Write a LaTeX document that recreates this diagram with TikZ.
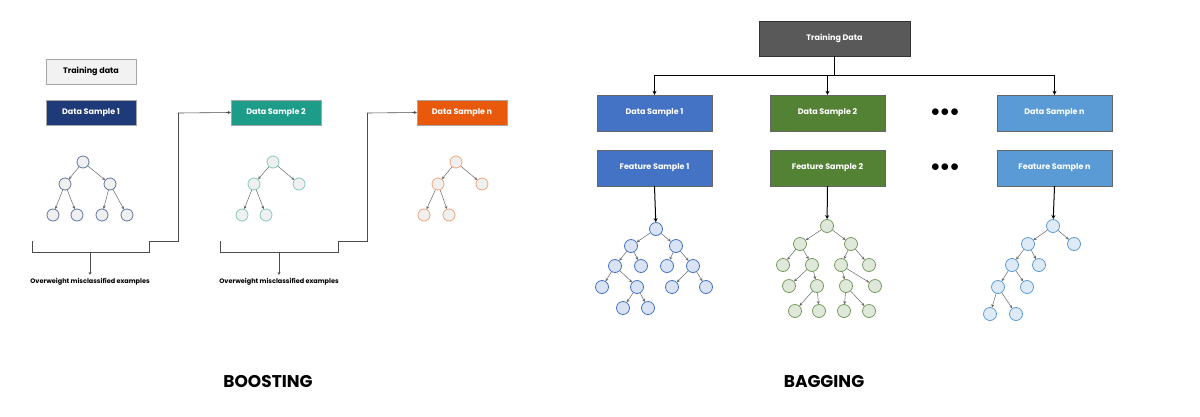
\documentclass[tikz,border=0pt]{standalone}
\usepackage{fontspec}
\setmainfont{Poppins}
\usetikzlibrary{arrows.meta}
\definecolor{dsone}{HTML}{1F3A78}
\definecolor{dstwo}{HTML}{1E9C8A}
\definecolor{dsn}{HTML}{E8590C}
\definecolor{bblue}{HTML}{4472C4}
\definecolor{bgreen}{HTML}{548235}
\definecolor{blight}{HTML}{5B9BD5}
\tikzset{
 px/.style={x=1pt,y=-1pt},
 bbox/.style={draw=gray!70,minimum width=90pt,minimum height=25pt,inner sep=0pt,font=\fontsize{8}{9}\selectfont\bfseries,text=white},
 gbox/.style={draw=black!60,minimum width=115pt,minimum height=36pt,inner sep=0pt,font=\fontsize{8}{9}\selectfont\bfseries,text=white},
 tn/.style={circle,draw=#1,fill=gray!12,line width=0.8pt,minimum size=12pt,inner sep=0pt},
 bn/.style={circle,draw=#1,line width=0.8pt,minimum size=13pt,inner sep=0pt},
 te/.style={draw=gray!80!black,line width=0.5pt,-{Stealth[length=3pt,width=3pt]}},
 ln/.style={draw=black!70,line width=0.6pt},
 ar/.style={draw=black,line width=1pt,-{Stealth[length=4pt,width=4pt]}},
 title/.style={font=\fontsize{17}{20}\selectfont\bfseries},
 captxt/.style={font=\fontsize{6.5}{8}\selectfont\bfseries}
}
\begin{document}
\begin{tikzpicture}[px]
\useasboundingbox (0,0) rectangle (1200,416);
% ---------- Boosting
\node[bbox,fill=gray!10,text=black] (td) at (91,71.5) {Training data};
\node[bbox,fill=dsone] (b1) at (91,112.5) {Data Sample 1};
\node[bbox,fill=dstwo] (b2) at (276,112.5) {Data Sample 2};
\node[bbox,fill=dsn] (bn) at (462,112.5) {Data Sample n};
% trees
\foreach \n/\x/\y in {r/83/162,a/65/184,b/110/184,c/53/215,d/77/215,e/102/215,f/127/215}
  \node[tn=dsone!70] (t1\n) at (\x,\y) {};
\foreach \p/\c in {r/a,r/b,a/c,a/d,b/e,b/f} \draw[te] (t1\p) -- (t1\c);
\foreach \n/\x/\y in {r/273/162,a/254/184,b/299/184,c/242/215,d/266/215}
  \node[tn=dstwo!55] (t2\n) at (\x,\y) {};
\foreach \p/\c in {r/a,r/b,a/c,a/d} \draw[te] (t2\p) -- (t2\c);
\foreach \n/\x/\y in {r/456/162,a/438/184,b/482/184,c/424/215,d/449/215}
  \node[tn=dsn!55] (t3\n) at (\x,\y) {};
\foreach \p/\c in {r/a,r/b,a/c,a/d} \draw[te] (t3\p) -- (t3\c);
% brackets
\coordinate (k1) at (32,241);
\draw[ln] (k1) -- (32,252) -- (149,252) -- (149,241) -- (178,241) -- (178,113);
\draw[ln,-{Stealth[length=3pt,width=3pt]}] (178,113) -- (b2.west);
\coordinate (k2) at (220,241);
\draw[ln] (k2) -- (220,252) -- (338,252) -- (338,241) -- (367,241) -- (367,113);
\draw[ln,-{Stealth[length=3pt,width=3pt]}] (367,113) -- (bn.west);
\node[captxt] (o1) at (90,282) {Overweight misclassified examples};
\node[captxt] (o2) at (279,282) {Overweight misclassified examples};
\draw[ln,-{Stealth[length=3pt,width=3pt]}] (90,252) -- (o1.north);
\draw[ln,-{Stealth[length=3pt,width=3pt]}] (279,252) -- (o2.north);
\node[title] (bt) at (268,381) {BOOSTING};
% ---------- Bagging
\node[gbox,draw=black!80,fill=black!65,minimum width=151pt,minimum height=35pt] (TD) at (834.5,38.5) {Training Data};
\node[gbox,fill=bblue] (d1) at (654.5,113) {Data Sample 1};
\node[gbox,fill=bgreen] (d2) at (827.5,113) {Data Sample 2};
\node[gbox,fill=blight] (dn) at (1054.5,113) {Data Sample n};
\node[gbox,fill=bblue] (f1) at (654.5,168) {Feature Sample 1};
\node[gbox,fill=bgreen] (f2) at (827.5,168) {Feature Sample 2};
\node[gbox,fill=blight] (fn) at (1054.5,168) {Feature Sample n};
\node[font=\fontsize{16}{16}\selectfont] (dots1) at (945,113) {$\bullet\!\bullet\!\bullet$};
\node[font=\fontsize{16}{16}\selectfont] (dots2) at (945,168) {$\bullet\!\bullet\!\bullet$};
\coordinate (j) at (834.5,75);
\draw[draw=black,line width=1pt] (TD.south) -- (j) (654.5,75) -- (1054.5,75);
\draw[ar] (654.5,75) -- (d1.north);
\draw[ar] (827.5,75) -- (d2.north);
\draw[ar] (1054.5,75) -- (dn.north);
% bagging trees
\foreach \n/\x/\y in {r/656/229,a/631/246,b/676/246,c/615/266,d/641/266,e/667/266,f/693/266,g/602/287,h/637/287,i/672/287,k/706/287,l/623/308,m/648/308}
  \node[bn=bblue,fill=bblue!20] (u\n) at (\x,\y) {};
\foreach \p/\c in {r/a,r/b,a/c,a/d,b/e,b/f,c/g,c/h,f/i,f/k,h/l,h/m} \draw[te] (u\p) -- (u\c);
\foreach \n/\x/\y in {r/827/226,a/800/244,b/851/244,c/783/265,d/812/265,e/841/265,f/869/265,g/789/286,h/817/286,i/846/286,k/875/286,l/795/311,m/819/311,o/844/311,q/869/311}
  \node[bn=bgreen!80,fill=bgreen!18] (v\n) at (\x,\y) {};
\foreach \p/\c in {r/a,r/b,a/c,a/d,b/e,b/f,d/g,d/h,e/i,e/k,h/l,h/m,i/o,i/q} \draw[te] (v\p) -- (v\c);
\foreach \n/\x/\y in {r/1053/226,a/1028/244,b/1074/244,c/1012/265,d/1039/265,e/998/287,f/1027/287,g/990/314,h/1016/314}
  \node[bn=blight,fill=blight!20] (w\n) at (\x,\y) {};
\foreach \p/\c in {r/a,r/b,a/c,a/d,c/e,c/f,e/g,e/h} \draw[te] (w\p) -- (w\c);
\draw[ar] (f1.south) -- (ur);
\draw[ar] (f2.south) -- (vr);
\draw[ar] (fn.south) -- (wr);
\node[title] (gt) at (824,381) {BAGGING};
\end{tikzpicture}
\end{document}
